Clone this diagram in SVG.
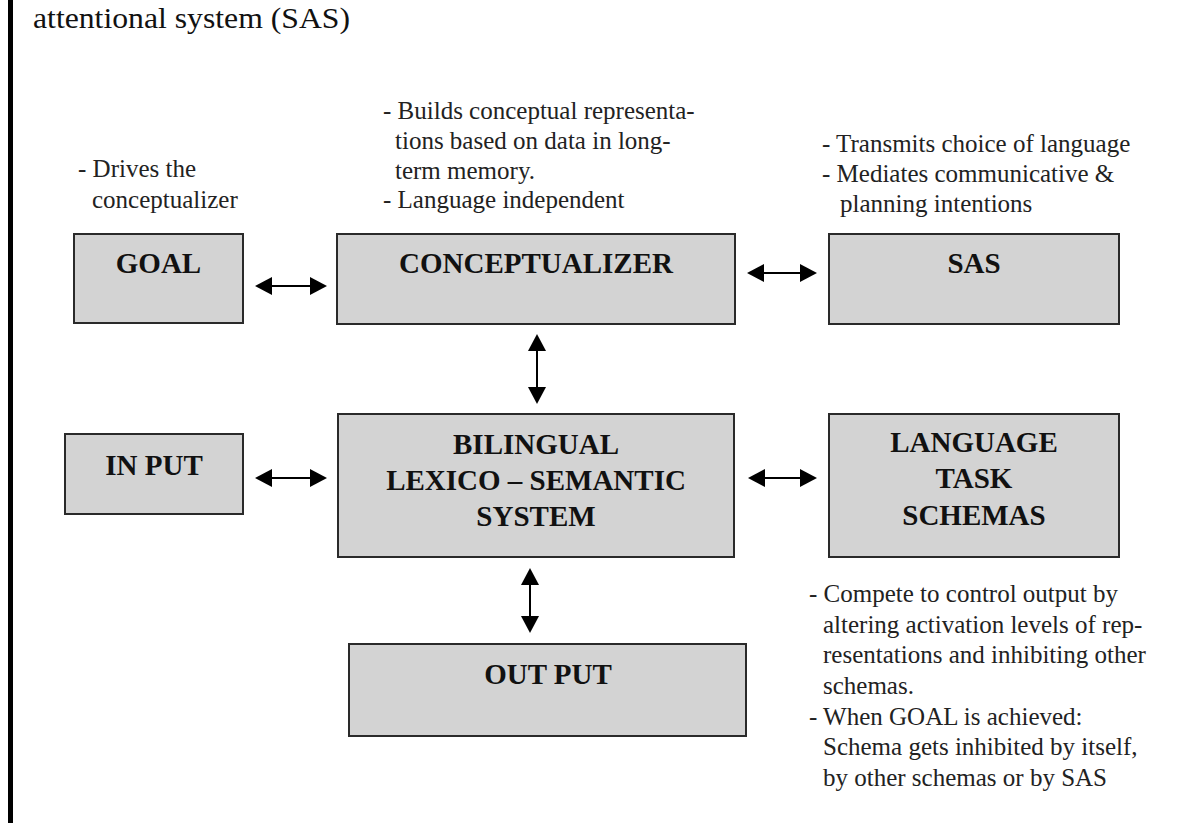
<svg xmlns="http://www.w3.org/2000/svg" width="1183" height="823" viewBox="0 0 1183 823">
<style>
.box{fill:#d3d3d3;stroke:#2a2a2a;stroke-width:2}
.lbl{font-family:"Liberation Serif","Times New Roman",serif;font-weight:bold;font-size:29px;fill:#111;text-anchor:middle}
.note{font-family:"Liberation Serif","Times New Roman",serif;font-size:25px;fill:#222}
.title{font-family:"Liberation Serif","Times New Roman",serif;font-size:30px;fill:#111}
.conn{stroke:#000;stroke-width:2;fill:none;marker-start:url(#ah);marker-end:url(#ah)}
</style>
<defs>
<marker id="ah" viewBox="0 0 17 18" refX="0" refY="9" markerWidth="17" markerHeight="18" markerUnits="userSpaceOnUse" orient="auto-start-reverse">
<path d="M0,0 L17,9 L0,18 z" fill="#000"/>
</marker>
</defs>
<rect width="1183" height="823" fill="#fff"/>
<rect x="8" y="0" width="5" height="823" fill="#000"/>
<text class="title" x="33" y="28" textLength="317" lengthAdjust="spacingAndGlyphs">attentional system (SAS)</text>

<g id="goal">
<rect class="box" x="74" y="234" width="169" height="89"/>
<text class="lbl" x="158.5" y="273">GOAL</text>
<text class="note" x="78" y="177">- Drives the</text>
<text class="note" x="92" y="208">conceptualizer</text>
</g>

<g id="conceptualizer">
<rect class="box" x="337" y="234" width="398" height="90"/>
<text class="lbl" x="536" y="273">CONCEPTUALIZER</text>
<text class="note" x="383" y="119">- Builds conceptual representa-</text>
<text class="note" x="395" y="149">tions based on data in long-</text>
<text class="note" x="395" y="179">term memory.</text>
<text class="note" x="383" y="208">- Language independent</text>
</g>

<g id="sas">
<rect class="box" x="829" y="234" width="290" height="90"/>
<text class="lbl" x="974" y="273">SAS</text>
<text class="note" x="822" y="152">- Transmits choice of language</text>
<text class="note" x="822" y="182">- Mediates communicative &amp;</text>
<text class="note" x="840" y="212">planning intentions</text>
</g>

<g id="input">
<rect class="box" x="65" y="434" width="178" height="80"/>
<text class="lbl" x="154" y="475">IN PUT</text>
</g>

<g id="bilingual">
<rect class="box" x="338" y="414" width="396" height="143"/>
<text class="lbl" x="536" y="454">BILINGUAL</text>
<text class="lbl" x="536" y="490">LEXICO – SEMANTIC</text>
<text class="lbl" x="536" y="526">SYSTEM</text>
</g>

<g id="schemas">
<rect class="box" x="829" y="414" width="290" height="143"/>
<text class="lbl" x="974" y="452">LANGUAGE</text>
<text class="lbl" x="974" y="488">TASK</text>
<text class="lbl" x="974" y="525">SCHEMAS</text>
<text class="note" x="809" y="602">- Compete to control output by</text>
<text class="note" x="823" y="633">altering activation levels of rep-</text>
<text class="note" x="823" y="663">resentations and inhibiting other</text>
<text class="note" x="823" y="694">schemas.</text>
<text class="note" x="809" y="725">- When GOAL is achieved:</text>
<text class="note" x="823" y="755">Schema gets inhibited by itself,</text>
<text class="note" x="823" y="786">by other schemas or by SAS</text>
</g>

<g id="output">
<rect class="box" x="349" y="644" width="397" height="92"/>
<text class="lbl" x="548" y="684">OUT PUT</text>
</g>

<g id="connectors">
<line class="conn" x1="272" y1="286" x2="310" y2="286"/>
<line class="conn" x1="764" y1="273" x2="800" y2="273"/>
<line class="conn" x1="272" y1="478" x2="310" y2="478"/>
<line class="conn" x1="765" y1="478" x2="800" y2="478"/>
<line class="conn" x1="537" y1="351" x2="537" y2="387"/>
<line class="conn" x1="530" y1="585" x2="530" y2="616"/>
</g>
</svg>
